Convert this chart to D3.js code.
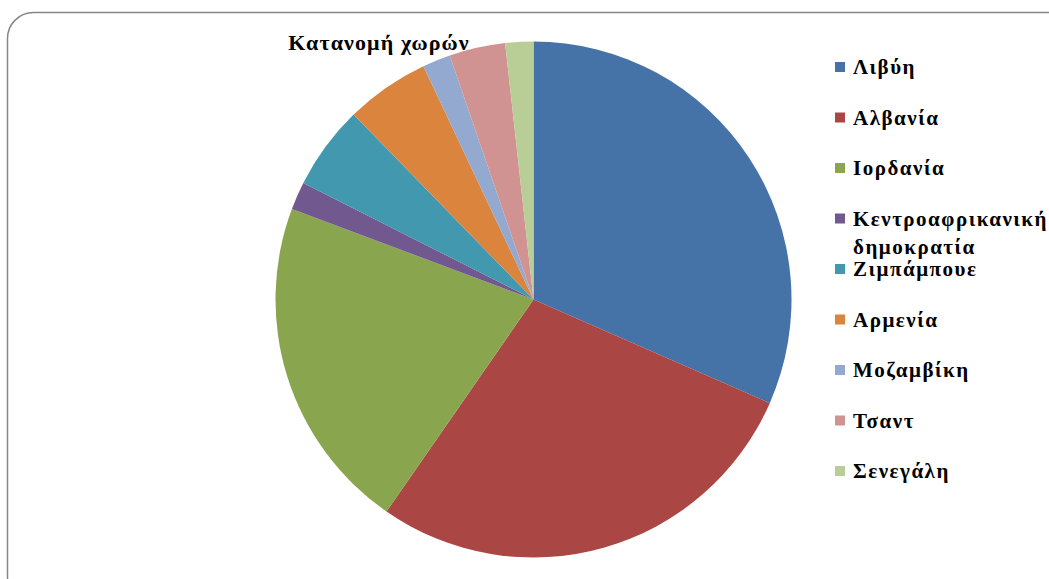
<!DOCTYPE html>
<html>
<head>
<meta charset="utf-8">
<script src="https://cdn.jsdelivr.net/npm/d3@7"></script>
<style>
  html, body { margin: 0; padding: 0; background: #fff; }
  svg { display: block; }
</style>
</head>
<body>
<svg id="chart"></svg>
<script>
(function() {

const width = 1049;
const height = 579;
const fontFamily = "'Liberation Serif', 'DejaVu Serif', serif";

// data
const countries = ["Λιβύη", "Αλβανία", "Ιορδανία", "Κεντροαφρικανική δημοκρατία", "Ζιμπάμπουε",
                   "Αρμενία", "Μοζαμβίκη", "Τσαντ", "Σενεγάλη"];
const counts = [18, 16, 12, 1, 3, 3, 1, 2, 1];
const legendLines = [["Λιβύη"], ["Αλβανία"], ["Ιορδανία"], ["Κεντροαφρικανική", "δημοκρατία"],
                     ["Ζιμπάμπουε"], ["Αρμενία"], ["Μοζαμβίκη"], ["Τσαντ"], ["Σενεγάλη"]];
const chartTitle = "Κατανομή χωρών";

const colorPallette = ['#4572A7', '#AA4643', '#89A54E', '#71588F', '#4198AF',
                       '#DB843D', '#93A9CF', '#D19392', '#B9CD96'];
const color = d3.scaleOrdinal().domain(countries).range(colorPallette);

const svg = d3.select("#chart")
    .attr("width", width)
    .attr("height", height);

// rounded frame
svg.append("rect")
    .attr("x", 7.5)
    .attr("y", 12.5)
    .attr("width", 1070)
    .attr("height", 590)
    .attr("rx", 26)
    .attr("fill", "none")
    .attr("stroke", "#868686")
    .attr("stroke-width", 1.5);

const cx = 533.5, cy = 299.5, radius = 258;

const pie = d3.pie().sort(null).value(d => d.value);
const arc = d3.arc().innerRadius(0).outerRadius(radius);

const data = countries.map((c, i) => ({ name: c, value: counts[i] }));

svg.append("g")
    .attr("transform", `translate(${cx},${cy})`)
  .selectAll("path")
    .data(pie(data))
    .enter().append("path")
    .attr("d", arc)
    .attr("fill", d => color(d.data.name));

// title
svg.append("text")
    .attr("x", 379)
    .attr("y", 50)
    .attr("text-anchor", "middle")
    .attr("font-family", fontFamily)
    .attr("font-weight", "bold")
    .attr("font-size", 22)
    .attr("letter-spacing", 1.1)
    .text(chartTitle);

// legend
const yLegend = d3.scalePoint()
    .domain(countries)
    .range([68, 472]);

const legend = svg.append("g");

const item = legend.selectAll("g")
    .data(countries)
    .enter().append("g")
    .attr("transform", d => `translate(835, ${yLegend(d)})`);

item.append("rect")
    .attr("x", 0)
    .attr("y", -6)
    .attr("width", 10)
    .attr("height", 10)
    .attr("fill", d => color(d));

item.append("text")
    .attr("x", 18)
    .attr("y", 6)
    .attr("font-family", fontFamily)
    .attr("font-weight", "bold")
    .attr("font-size", 21)
    .attr("letter-spacing", 1.5)
    .selectAll("tspan")
    .data((d, i) => legendLines[i])
    .enter().append("tspan")
    .attr("x", 18)
    .attr("dy", (d, j) => j === 0 ? 0 : 28)
    .text(d => d);

})();
</script>
</body>
</html>
